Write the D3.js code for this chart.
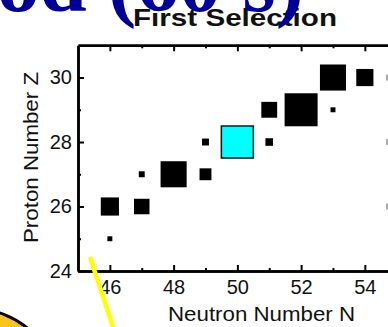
<!DOCTYPE html>
<html>
<head>
<meta charset="utf-8">
<script src="https://cdn.jsdelivr.net/npm/d3@7"></script>
<style>
  html, body { margin: 0; padding: 0; background: #fff; overflow: hidden; }
  svg { display: block; }
</style>
</head>
<body>
<div id="chart"></div>
<script>
// Nuclide grid: neutron number, proton number, relative yield (box size)
const neutronN = [46, 47, 46, 47, 48, 49, 49, 50, 51, 51, 52, 53, 53, 54];
const protonZ  = [26, 26, 25, 27, 27, 27, 28, 28, 28, 29, 29, 29, 30, 30];
const yieldRel = [5.5, 4.7, 1.5, 1.8, 7.9, 3.6, 2.1, 9.7, 2.3, 4.8, 10, 1.5, 7.9, 5.2];
const highlight = [50, 28];

const xMajor = [46, 48, 50, 52, 54];
const xMinor = [47, 49, 51, 53, 55];
const yMajor = [24, 26, 28, 30];
const yMinor = [25, 27, 29];
const edgeZ = [30, 28, 26];

const width = 388;
const height = 327;

const svg = d3.select('#chart')
  .append('svg')
  .attr('width', width)
  .attr('height', height);

const x = d3.scaleLinear().domain([45, 56]).range([78, 428.6]);
const y = d3.scaleLinear().domain([24, 31]).range([271, 45.3]);
const side = d3.scaleLinear().domain([0, 10]).range([0, 33]);

const font = "'Liberation Sans', Arial, Helvetica, sans-serif";

// Boxes
const pts = neutronN.map((n, i) => ({ n, z: protonZ[i], v: yieldRel[i] }));
svg.append('g')
  .selectAll('rect')
  .data(pts)
  .join('rect')
  .attr('x', d => x(d.n) - side(d.v) / 2)
  .attr('y', d => y(d.z) - side(d.v) / 2)
  .attr('width', d => side(d.v))
  .attr('height', d => side(d.v))
  .attr('fill', d => (d.n === highlight[0] && d.z === highlight[1]) ? '#00ffff' : '#000')
  .attr('stroke', d => (d.n === highlight[0] && d.z === highlight[1]) ? '#111' : 'none')
  .attr('stroke-width', 1.5);

// Axes (ticks point inward)
function styleAxis(g) {
  g.selectAll('path.domain').attr('stroke', '#000').attr('stroke-width', 2.5);
  g.selectAll('.tick line').attr('stroke', '#000').attr('stroke-width', 2);
  g.selectAll('.tick text')
    .attr('fill', '#111')
    .attr('font-family', font)
    .attr('font-size', '20px');
}

svg.append('g')
  .attr('transform', `translate(0,${y(31)})`)
  .call(d3.axisTop(x).tickValues(xMajor).tickSizeInner(-6).tickSizeOuter(0).tickFormat(''))
  .call(styleAxis);
svg.append('g')
  .attr('transform', `translate(0,${y(31)})`)
  .call(d3.axisTop(x).tickValues(xMinor).tickSizeInner(-3).tickSizeOuter(0).tickFormat(''))
  .call(styleAxis);

svg.append('g')
  .attr('transform', `translate(0,${y(24)})`)
  .call(d3.axisBottom(x).tickValues(xMajor).tickSizeInner(-6).tickSizeOuter(0).tickPadding(9).tickFormat(d3.format('d')))
  .call(styleAxis);
svg.append('g')
  .attr('transform', `translate(0,${y(24)})`)
  .call(d3.axisBottom(x).tickValues(xMinor).tickSizeInner(-3).tickSizeOuter(0).tickFormat(''))
  .call(styleAxis);

svg.append('g')
  .attr('transform', `translate(${x(45)},0)`)
  .call(d3.axisLeft(y).tickValues(yMajor).tickSizeInner(-6).tickSizeOuter(0).tickPadding(6).tickFormat(d3.format('d')))
  .call(styleAxis);
svg.append('g')
  .attr('transform', `translate(${x(45)},0)`)
  .call(d3.axisLeft(y).tickValues(yMinor).tickSizeInner(-3).tickSizeOuter(0).tickFormat(''))
  .call(styleAxis);

// Bits of the neighbouring panel at the right edge
svg.append('g')
  .selectAll('rect')
  .data(edgeZ)
  .join('rect')
  .attr('x', 386)
  .attr('y', d => y(d) - 3)
  .attr('width', 2)
  .attr('height', 6)
  .attr('fill', '#aaa');

// Axis titles
svg.append('text')
  .attr('x', 168)
  .attr('y', 321)
  .attr('font-family', font)
  .attr('font-size', '20px')
  .attr('fill', '#111')
  .attr('textLength', 187)
  .attr('lengthAdjust', 'spacingAndGlyphs')
  .text('Neutron Number N');

svg.append('text')
  .attr('transform', 'translate(38,243) rotate(-90)')
  .attr('font-family', font)
  .attr('font-size', '20px')
  .attr('fill', '#111')
  .attr('textLength', 171)
  .attr('lengthAdjust', 'spacingAndGlyphs')
  .text('Proton Number Z');

// Panel title
svg.append('text')
  .attr('x', 133)
  .attr('y', 26)
  .attr('font-family', font)
  .attr('font-weight', 'bold')
  .attr('font-size', '24px')
  .attr('fill', '#111')
  .attr('textLength', 204)
  .attr('lengthAdjust', 'spacingAndGlyphs')
  .text('First Selection');

// Slide title, cut off at the top
svg.append('text')
  .attr('x', 304)
  .attr('y', 11)
  .attr('text-anchor', 'end')
  .attr('font-family', "'Liberation Serif', 'Times New Roman', serif")
  .attr('font-weight', 'bold')
  .attr('font-size', '85px')
  .attr('fill', '#000099')
  .text('od (60 s)');

// Slide decorations
svg.append('line')
  .attr('x1', 90).attr('y1', 257)
  .attr('x2', 114).attr('y2', 330)
  .attr('stroke', '#ffff00')
  .attr('stroke-width', 4.5);

svg.append('circle')
  .attr('cx', -30)
  .attr('cy', 400)
  .attr('r', 92)
  .attr('fill', '#fcc419')
  .attr('stroke', '#000')
  .attr('stroke-width', 3);
</script>
</body>
</html>
